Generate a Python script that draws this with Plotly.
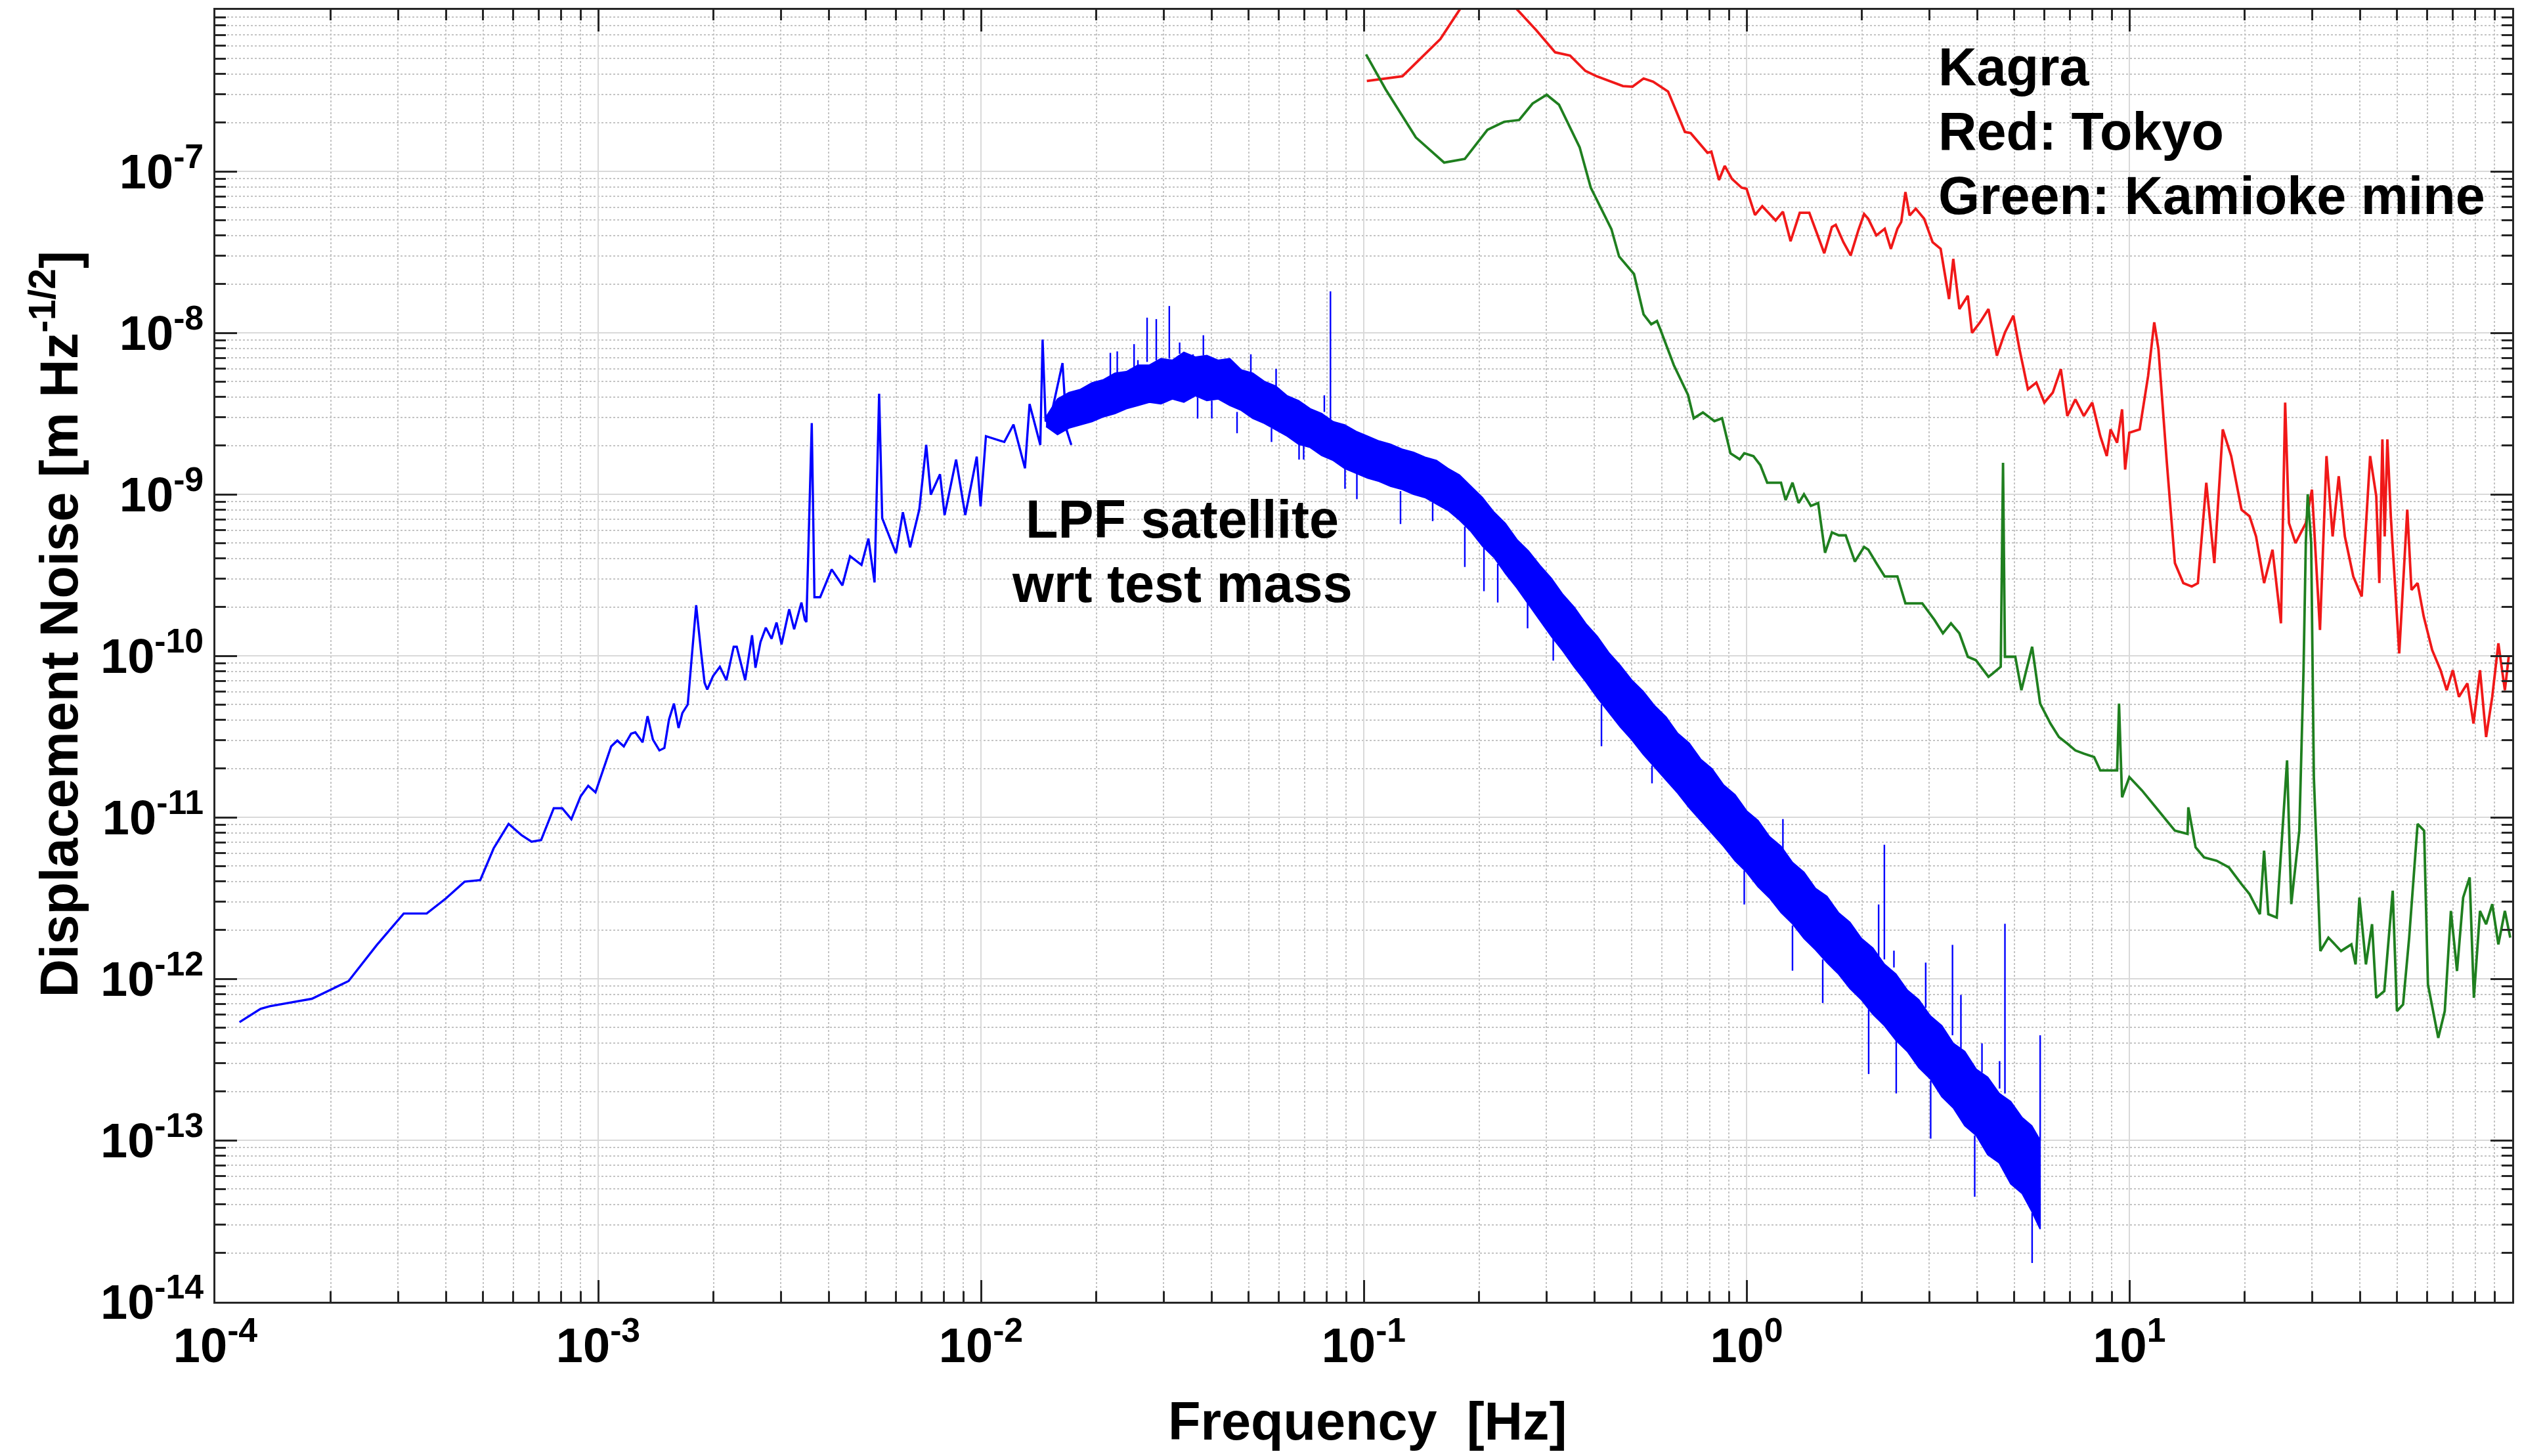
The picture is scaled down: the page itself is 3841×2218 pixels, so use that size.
import numpy as np
import plotly.graph_objects as go

# ---------------- data (log10 of frequency [Hz] and of displacement noise [m/sqrt(Hz)]) -------------
# LPF satellite wrt test mass: low-frequency single line part
blue_line_logf = [-3.937, -3.882, -3.858, -3.748, -3.652, -3.579, -3.508, -3.448, -3.398, -3.349,
                  -3.308, -3.273, -3.234, -3.201, -3.174, -3.149, -3.116, -3.094, -3.070, -3.046,
                  -3.026, -3.007, -2.966, -2.950, -2.933, -2.914, -2.903, -2.884, -2.871, -2.857,
                  -2.840, -2.827, -2.815, -2.802, -2.790, -2.780, -2.766, -2.758, -2.744, -2.731,
                  -2.722, -2.715, -2.700, -2.682, -2.665, -2.646, -2.638, -2.616, -2.598, -2.589,
                  -2.576, -2.562, -2.547, -2.534, -2.521, -2.501, -2.488, -2.469, -2.460, -2.456,
                  -2.442, -2.435, -2.420, -2.390, -2.362, -2.342, -2.312, -2.294, -2.278, -2.266,
                  -2.258, -2.222, -2.204, -2.185, -2.161, -2.143, -2.131, -2.107, -2.095, -2.065,
                  -2.041, -2.011, -2.001, -1.987, -1.939, -1.915, -1.885, -1.873, -1.845, -1.839,
                  -1.831, -1.812, -1.787, -1.776, -1.764]
blue_line_logv = [-12.269, -12.186, -12.170, -12.124, -12.014, -11.793, -11.596, -11.596, -11.503, -11.399,
                  -11.389, -11.192, -11.041, -11.109, -11.151, -11.141, -10.944, -10.944, -11.012, -10.871,
                  -10.805, -10.846, -10.561, -10.525, -10.561, -10.482, -10.474, -10.536, -10.374, -10.519,
                  -10.586, -10.571, -10.395, -10.296, -10.447, -10.354, -10.302, -10.084, -9.687, -9.981,
                  -10.167, -10.209, -10.126, -10.068, -10.151, -9.944, -9.944, -10.151, -9.873, -10.074,
                  -9.915, -9.826, -9.894, -9.794, -9.929, -9.712, -9.836, -9.670, -9.778, -9.791,
                  -8.559, -9.637, -9.637, -9.465, -9.564, -9.383, -9.437, -9.274, -9.546, -8.377,
                  -9.148, -9.365, -9.111, -9.329, -9.093, -8.694, -9.002, -8.876, -9.129, -8.785,
                  -9.129, -8.767, -9.075, -8.640, -8.676, -8.568, -8.839, -8.441, -8.694, -8.042,
                  -8.550, -8.459, -8.187, -8.604, -8.694]

# LPF dense noise band: upper / lower envelope (jagged edges as read)
band_logf = [-1.83, -1.80, -1.77, -1.74, -1.71, -1.68, -1.65, -1.62, -1.59, -1.56,
             -1.53, -1.50, -1.47, -1.44, -1.41, -1.38, -1.35, -1.32, -1.29, -1.26,
             -1.23, -1.20, -1.17, -1.14, -1.11, -1.08, -1.05, -1.02, -0.99, -0.96,
             -0.93, -0.90, -0.87, -0.84, -0.81, -0.78, -0.75, -0.72, -0.69, -0.66,
             -0.63, -0.60, -0.57, -0.54, -0.51, -0.48, -0.45, -0.42, -0.39, -0.36,
             -0.33, -0.30, -0.27, -0.24, -0.21, -0.18, -0.15, -0.12, -0.09, -0.06,
             -0.03, 0.00, 0.03, 0.06, 0.09, 0.12, 0.15, 0.18, 0.21, 0.24,
             0.27, 0.30, 0.33, 0.36, 0.39, 0.42, 0.45, 0.48, 0.51, 0.54,
             0.57, 0.60, 0.63, 0.66, 0.69, 0.72, 0.745, 0.767]
band_upper_logv = [-8.52, -8.41, -8.37, -8.35, -8.31, -8.29, -8.25, -8.24, -8.20, -8.20,
                   -8.16, -8.17, -8.12, -8.15, -8.14, -8.17, -8.16, -8.23, -8.25, -8.30,
                   -8.33, -8.39, -8.42, -8.47, -8.50, -8.55, -8.57, -8.61, -8.64, -8.67,
                   -8.69, -8.72, -8.74, -8.77, -8.79, -8.84, -8.88, -8.95, -9.02, -9.11,
                   -9.18, -9.28, -9.35, -9.44, -9.52, -9.62, -9.70, -9.80, -9.88, -9.98,
                   -10.06, -10.15, -10.22, -10.31, -10.38, -10.48, -10.54, -10.64, -10.70, -10.80,
                   -10.86, -10.96, -11.02, -11.12, -11.18, -11.28, -11.34, -11.44, -11.49, -11.59,
                   -11.65, -11.75, -11.81, -11.91, -11.97, -12.07, -12.13, -12.23, -12.29, -12.40,
                   -12.45, -12.56, -12.61, -12.71, -12.76, -12.86, -12.91, -13.00]
band_lower_logv = [-8.58, -8.63, -8.59, -8.57, -8.55, -8.52, -8.50, -8.47, -8.45, -8.43,
                   -8.44, -8.41, -8.43, -8.39, -8.42, -8.41, -8.45, -8.48, -8.53, -8.56,
                   -8.60, -8.64, -8.69, -8.71, -8.76, -8.79, -8.84, -8.87, -8.90, -8.92,
                   -8.95, -8.97, -9.00, -9.02, -9.06, -9.10, -9.16, -9.23, -9.32, -9.39,
                   -9.49, -9.58, -9.68, -9.78, -9.88, -9.97, -10.07, -10.16, -10.26, -10.35,
                   -10.44, -10.52, -10.61, -10.69, -10.77, -10.85, -10.94, -11.02, -11.10, -11.18,
                   -11.27, -11.34, -11.43, -11.50, -11.59, -11.66, -11.75, -11.82, -11.90, -11.97,
                   -12.06, -12.13, -12.22, -12.29, -12.38, -12.45, -12.55, -12.62, -12.73, -12.80,
                   -12.91, -12.97, -13.09, -13.14, -13.27, -13.33, -13.44, -13.55]

# narrow spectral lines sticking out of the band (frequency, from, to)
spike_logf = [-1.662, -1.644, -1.600, -1.590, -1.566, -1.542, -1.508, -1.481, -1.446, -1.419,
              -1.295, -1.229, -1.103, -1.087, 0.095, 0.345, 0.360, 0.385, 0.468, 0.538,
              0.560, 0.615, 0.661, 0.675, 0.767,
              -1.434, -1.397, -1.331, -1.241, -1.169, -1.157, -1.049, -1.018, -0.904, -0.820,
              -0.736, -0.686, -0.650, -0.572, -0.505, -0.379, -0.247, -0.006, 0.120, 0.199,
              0.319, 0.391, 0.481, 0.596, 0.746]
spike_from_logv = [-8.29, -8.26, -8.22, -8.21, -8.18, -8.17, -8.16, -8.13, -8.15, -8.14,
                   -8.25, -8.33, -8.49, -8.55, -11.20, -11.86, -11.88, -11.93, -12.18, -12.35,
                   -12.43, -12.58, -12.68, -12.71, -13.00,
                   -8.40, -8.42, -8.49, -8.59, -8.69, -8.70, -8.83, -8.87, -8.98, -9.05,
                   -9.20, -9.33, -9.43, -9.66, -9.88, -10.30, -10.68, -11.33, -11.67, -11.88,
                   -12.19, -12.38, -12.63, -12.97, -13.45]
spike_to_logv = [-8.124, -8.115, -8.070, -8.169, -7.906, -7.915, -7.834, -8.060, -8.133, -8.015,
                 -8.133, -8.223, -8.387, -7.743, -11.011, -11.54, -11.17, -11.826, -11.90, -11.79,
                 -12.10, -12.40, -12.51, -11.66, -12.35,
                 -8.531, -8.531, -8.622, -8.676, -8.785, -8.785, -8.966, -9.030, -9.184, -9.166,
                 -9.45, -9.60, -9.67, -9.83, -10.03, -10.56, -10.79, -11.54, -11.95, -12.15,
                 -12.59, -12.71, -12.99, -13.35, -13.76]

# Kagra, Tokyo (red)
red_logf = [-0.992, -0.899, -0.800, -0.736, -0.680, -0.618, -0.549, -0.500, -0.461, -0.421,
            -0.392, -0.323, -0.298, -0.269, -0.244, -0.205, -0.161, -0.146, -0.102, -0.092,
            -0.072, -0.057, -0.038, -0.013, 0.000, 0.022, 0.041, 0.076, 0.095, 0.115,
            0.139, 0.164, 0.203, 0.223, 0.233, 0.253, 0.272, 0.292, 0.307, 0.318,
            0.339, 0.361, 0.377, 0.394, 0.404, 0.415, 0.426, 0.442, 0.464, 0.486,
            0.507, 0.529, 0.540, 0.556, 0.578, 0.589, 0.610, 0.632, 0.654, 0.675,
            0.697, 0.713, 0.735, 0.757, 0.778, 0.800, 0.821, 0.838, 0.859, 0.881,
            0.903, 0.924, 0.941, 0.951, 0.968, 0.981, 0.989, 1.000, 1.027, 1.049,
            1.065, 1.076, 1.098, 1.119, 1.141, 1.163, 1.179, 1.201, 1.222, 1.244,
            1.266, 1.293, 1.314, 1.331, 1.352, 1.374, 1.396, 1.407, 1.417, 1.434,
            1.461, 1.477, 1.498, 1.515, 1.531, 1.547, 1.563, 1.585, 1.607, 1.629,
            1.645, 1.653, 1.661, 1.667, 1.674, 1.683, 1.705, 1.726, 1.737, 1.753,
            1.769, 1.791, 1.813, 1.829, 1.845, 1.861, 1.883, 1.899, 1.916, 1.932,
            1.948, 1.964, 1.981, 1.991]
red_logv = [-6.441, -6.411, -6.181, -5.950, -5.850, -5.950, -6.127, -6.263, -6.283, -6.378,
            -6.411, -6.472, -6.476, -6.425, -6.445, -6.506, -6.756, -6.763, -6.885, -6.878,
            -7.054, -6.966, -7.047, -7.101, -7.108, -7.270, -7.216, -7.304, -7.250, -7.433,
            -7.257, -7.257, -7.507, -7.345, -7.331, -7.439, -7.521, -7.365, -7.264, -7.294,
            -7.397, -7.356, -7.480, -7.356, -7.314, -7.128, -7.273, -7.231, -7.294, -7.439,
            -7.480, -7.791, -7.542, -7.853, -7.770, -8.000, -7.935, -7.853, -8.142, -7.998,
            -7.894, -8.101, -8.350, -8.308, -8.432, -8.370, -8.225, -8.515, -8.412, -8.515,
            -8.432, -8.639, -8.763, -8.598, -8.681, -8.474, -8.847, -8.619, -8.598, -8.267,
            -7.935, -8.101, -8.805, -9.426, -9.550, -9.571, -9.550, -8.929, -9.426, -8.598,
            -8.763, -9.095, -9.136, -9.261, -9.550, -9.343, -9.799, -8.432, -9.178, -9.302,
            -9.178, -8.971, -9.840, -8.763, -9.261, -8.888, -9.261, -9.509, -9.633, -8.763,
            -9.012, -9.550, -8.660, -9.261, -8.660, -9.136, -9.985, -9.095, -9.592, -9.550,
            -9.757, -9.964, -10.089, -10.213, -10.089, -10.254, -10.171, -10.420, -10.089, -10.503,
            -10.254, -9.923, -10.213, -10.006]

# Kagra, Kamioka mine (green)
green_logf = [-0.994, -0.943, -0.864, -0.790, -0.736, -0.677, -0.633, -0.594, -0.559, -0.522,
              -0.490, -0.436, -0.407, -0.353, -0.333, -0.294, -0.269, -0.249, -0.234, -0.225,
              -0.190, -0.153, -0.138, -0.114, -0.084, -0.064, -0.042, -0.018, -0.006, 0.018,
              0.036, 0.054, 0.090, 0.102, 0.120, 0.136, 0.150, 0.168, 0.187, 0.205,
              0.223, 0.241, 0.259, 0.283, 0.307, 0.318, 0.339, 0.361, 0.394, 0.415,
              0.459, 0.491, 0.513, 0.534, 0.556, 0.578, 0.599, 0.632, 0.643, 0.664,
              0.670, 0.675, 0.702, 0.718, 0.746, 0.767, 0.794, 0.816, 0.838, 0.859,
              0.881, 0.908, 0.924, 0.946, 0.968, 0.973, 0.981, 1.000, 1.033, 1.076,
              1.119, 1.152, 1.154, 1.173, 1.195, 1.228, 1.260, 1.293, 1.314, 1.341,
              1.352, 1.363, 1.385, 1.412, 1.423, 1.444, 1.455, 1.461, 1.466, 1.475,
              1.482, 1.499, 1.520, 1.553, 1.580, 1.591, 1.601, 1.618, 1.634, 1.645,
              1.666, 1.688, 1.699, 1.715, 1.731, 1.753, 1.770, 1.780, 1.807, 1.824,
              1.840, 1.856, 1.872, 1.889, 1.900, 1.916, 1.932, 1.948, 1.964, 1.981,
              1.995]
green_logv = [-6.276, -6.492, -6.790, -6.946, -6.923, -6.743, -6.693, -6.682, -6.580, -6.526,
              -6.587, -6.851, -7.101, -7.358, -7.527, -7.636, -7.886, -7.947, -7.927, -7.980,
              -8.200, -8.384, -8.529, -8.493, -8.547, -8.529, -8.746, -8.783, -8.746, -8.764,
              -8.819, -8.928, -8.928, -9.036, -8.928, -9.054, -9.000, -9.072, -9.054, -9.362,
              -9.236, -9.254, -9.254, -9.417, -9.326, -9.343, -9.426, -9.509, -9.509, -9.675,
              -9.675, -9.778, -9.861, -9.799, -9.861, -10.006, -10.027, -10.130, -10.110, -10.068,
              -8.805, -10.006, -10.006, -10.213, -9.944, -10.296, -10.420, -10.503, -10.544, -10.586,
              -10.606, -10.627, -10.710, -10.710, -10.710, -10.296, -10.876, -10.751, -10.834, -10.958,
              -11.083, -11.103, -10.938, -11.186, -11.248, -11.269, -11.310, -11.414, -11.476, -11.600,
              -11.207, -11.600, -11.621, -10.648, -11.538, -11.083, -10.089, -9.302, -9.000, -9.302,
              -10.751, -11.828, -11.745, -11.828, -11.787, -11.911, -11.497, -11.911, -11.662, -12.118,
              -12.076, -11.455, -12.200, -12.159, -11.745, -11.041, -11.083, -12.035, -12.366, -12.200,
              -11.580, -11.952, -11.497, -11.372, -12.118, -11.580, -11.662, -11.538, -11.787, -11.580,
              -11.745]

x_tick_exps = [-4, -3, -2, -1, 0, 1]
y_tick_exps = [-14, -13, -12, -11, -10, -9, -8, -7]

# ---------------- figure -------------
W, H = 3841, 2218
ML, MR, MT, MB = 328, 15, 12, 235
PW, PH = W - ML - MR, H - MT - MB


def px(X):
    return (X - ML) / PW


def py(Y):
    return (H - MB - Y) / PH


def p10(a):
    return list(10.0 ** np.asarray(a, dtype=float))


FONT = "Liberation Sans, Arial, Helvetica, sans-serif"
BLUE = "#0000ff"
RED = "#f01818"
GREEN = "#1f7f1f"

fig = go.Figure()

# dense noise band
bf = p10(band_logf)
fig.add_trace(go.Scatter(
    x=bf + bf[::-1],
    y=p10(band_upper_logv) + p10(band_lower_logv)[::-1],
    mode="lines", fill="toself", fillcolor=BLUE,
    line=dict(color=BLUE, width=2), hoverinfo="skip", showlegend=False))

# low-frequency line
fig.add_trace(go.Scatter(x=p10(blue_line_logf), y=p10(blue_line_logv), mode="lines",
                         line=dict(color=BLUE, width=3.4), showlegend=False))

# spectral lines
sx, sy = [], []
for f, a, b in zip(p10(spike_logf), p10(spike_from_logv), p10(spike_to_logv)):
    sx += [f, f, None]
    sy += [a, b, None]
fig.add_trace(go.Scatter(x=sx, y=sy, mode="lines", line=dict(color=BLUE, width=2.4),
                         showlegend=False))

fig.add_trace(go.Scatter(x=p10(red_logf), y=p10(red_logv), mode="lines",
                         line=dict(color=RED, width=3.8), showlegend=False))
fig.add_trace(go.Scatter(x=p10(green_logf), y=p10(green_logv), mode="lines",
                         line=dict(color=GREEN, width=3.8), showlegend=False))

AXC = "#262626"
GRID = "#d9d9d9"
MGRID = "#c4c4c4"

xminor = [m * 10.0 ** e for e in range(-4, 2) for m in range(2, 10)]
yminor = [m * 10.0 ** e for e in range(-14, -6) for m in range(2, 10)]

common = dict(type="log", ticks="inside", ticklen=33, tickwidth=3, tickcolor=AXC,
              showline=True, linecolor=AXC, linewidth=3, mirror="ticks",
              showgrid=True, gridcolor=GRID, gridwidth=2, zeroline=False,
              tickfont=dict(family=FONT, size=74, color="black", weight="bold"))

fig.update_xaxes(range=[-4, 2],
                 tickmode="array",
                 tickvals=[10.0 ** e for e in x_tick_exps],
                 ticktext=["10<sup>%d</sup>" % e for e in x_tick_exps],
                 minor=dict(tickmode="array", tickvals=xminor, ticks="inside", ticklen=16,
                            tickwidth=3, tickcolor=AXC, showgrid=True, gridcolor=MGRID,
                            gridwidth=2, griddash="dot"),
                 **common)
fig.update_yaxes(range=[-14, -6],
                 tickmode="array",
                 tickvals=[10.0 ** e for e in y_tick_exps],
                 ticktext=["10<sup>%d</sup>" % e for e in y_tick_exps],
                 minor=dict(tickmode="array", tickvals=yminor, ticks="inside", ticklen=16,
                            tickwidth=3, tickcolor=AXC, showgrid=True, gridcolor=MGRID,
                            gridwidth=2, griddash="dot"),
                 **common)

tf = dict(family=FONT, size=81, color="black", weight="bold")
ann = [
    dict(text="Kagra", x=px(2950), y=py(99), xanchor="left", yanchor="middle"),
    dict(text="Red: Tokyo", x=px(2950), y=py(197), xanchor="left", yanchor="middle"),
    dict(text="Green: Kamioke mine", x=px(2950), y=py(295), xanchor="left", yanchor="middle"),
    dict(text="LPF satellite", x=px(1800), y=py(789), xanchor="center", yanchor="middle"),
    dict(text="wrt test mass", x=px(1800), y=py(887), xanchor="center", yanchor="middle"),
    dict(text="Frequency\u00a0 [Hz]", x=px(2083), y=py(2165), xanchor="center", yanchor="middle"),
    dict(text="Displacement Noise [m Hz<sup>-1/2</sup>]", x=px(84), y=py(950),
         xanchor="center", yanchor="middle", textangle=-90),
]
for a in ann:
    fig.add_annotation(xref="paper", yref="paper", showarrow=False, font=tf, **a)

fig.update_layout(width=W, height=H, margin=dict(l=ML, r=MR, t=MT, b=MB, pad=0),
                  paper_bgcolor="white", plot_bgcolor="white", showlegend=False)

fig.write_html("out.html")
